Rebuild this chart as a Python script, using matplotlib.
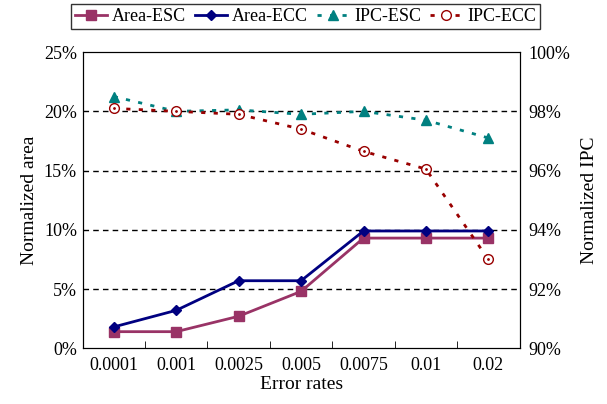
import matplotlib.pyplot as plt
import numpy as np
from matplotlib.ticker import FuncFormatter

plt.rcParams['font.family'] = ['Liberation Serif', 'DejaVu Serif']

error_rates = ['0.0001', '0.001', '0.0025', '0.005', '0.0075', '0.01', '0.02']
area_esc = [1.4, 1.4, 2.7, 4.8, 9.3, 9.3, 9.3]
area_ecc = [1.8, 3.2, 5.7, 5.7, 9.9, 9.9, 9.9]
ipc_esc = [98.5, 98.0, 98.05, 97.9, 98.0, 97.7, 97.1]
ipc_ecc = [98.1, 98.0, 97.9, 97.4, 96.65, 96.05, 93.0]

x = np.arange(len(error_rates))

fig = plt.figure(figsize=(6.07, 4.04), dpi=100)
ax = fig.add_axes([0.136, 0.138, 0.72, 0.733])
ax2 = ax.twinx()

for y in [5, 10, 15, 20]:
    ax.axhline(y, color='black', linestyle=(0, (4, 3)), linewidth=1, zorder=0)

l1, = ax.plot(x, area_esc, color='#993366', marker='s', markersize=7, linewidth=2, label='Area-ESC')
l2, = ax.plot(x, area_ecc, color='#000080', marker='D', markersize=5, linewidth=2, label='Area-ECC')
l3, = ax2.plot(x, ipc_esc, color='#008080', marker='^', markersize=7, linewidth=2,
               linestyle=(0, (1.5, 3)), label='IPC-ESC')
l4, = ax2.plot(x, ipc_ecc, color='#990000', marker='o', markersize=7, markerfacecolor='white',
               markeredgewidth=1, linewidth=2, linestyle=(0, (1.5, 3)), label='IPC-ECC')
ax2.plot(x, ipc_ecc, linestyle='none', marker='.', markersize=2, color='#990000')

ax.set_xlim(-0.5, len(x) - 0.5)
ax.set_ylim(0, 25)
ax2.set_ylim(90, 100)
ax.set_yticks([0, 5, 10, 15, 20, 25])
ax2.set_yticks([90, 92, 94, 96, 98, 100])
ax.yaxis.set_major_formatter(FuncFormatter(lambda v, p: f'{v:.0f}%'))
ax2.yaxis.set_major_formatter(FuncFormatter(lambda v, p: f'{v:.0f}%'))

ax.set_xticks(x)
ax.set_xticklabels(error_rates)
ax.set_xticks(x[:-1] + 0.5, minor=True)
ax.tick_params(axis='x', which='major', length=0, labelsize=13, pad=6)
ax.tick_params(axis='x', which='minor', direction='in', length=5)
ax.tick_params(axis='y', length=0, labelsize=13, pad=4)
ax2.tick_params(axis='y', length=0, labelsize=13, pad=6)

ax.set_xlabel('Error rates', fontsize=14, labelpad=2)
ax.set_ylabel('Normalized area', fontsize=14)
ax2.set_ylabel('Normalized IPC', fontsize=14, labelpad=8)

fig.legend(handles=[l1, l2, l3, l4], loc='center', bbox_to_anchor=(0.503, 0.959), ncol=4,
           fontsize=13, frameon=True, fancybox=False, edgecolor='black', handlelength=1.8,
           handletextpad=0.25, columnspacing=0.5, borderpad=0.2, borderaxespad=0)

fig.savefig('out.png', dpi=100)
